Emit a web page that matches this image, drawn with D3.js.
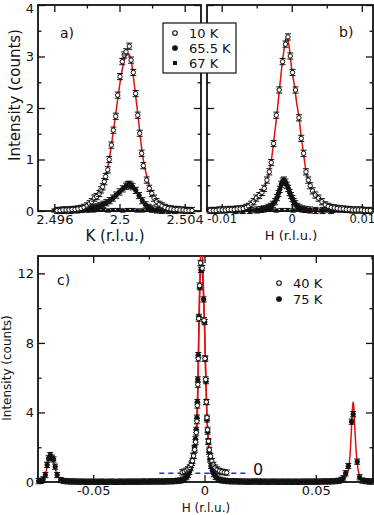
<!DOCTYPE html>
<html>
<head>
<meta charset="utf-8">
<script src="https://cdn.jsdelivr.net/npm/d3@7"></script>
<style>
body { margin: 0; background: #fff; }
svg { display: block; }
</style>
</head>
<body>
<div id="chart"></div>
<script>
// ---- data ----
// panel a: K scans (K in r.l.u., intensity in counts)
var scanA10K = [[2.49617,0.01],[2.49635,0.01],[2.49653,0.02],[2.49672,0.02],[2.49690,0.02],[2.49709,0.03],
    [2.49727,0.03],[2.49745,0.04],[2.49764,0.05],[2.49782,0.07],[2.49801,0.10],[2.49816,0.14],[2.49829,0.18],
    [2.49845,0.25],[2.49860,0.28],[2.49876,0.34],[2.49887,0.41],[2.49897,0.47],[2.49907,0.57],[2.49915,0.67],
    [2.49928,0.80],[2.49937,1.00],[2.49950,1.28],[2.49962,1.57],[2.49977,1.84],[2.49989,2.25],[2.50003,2.61],
    [2.50017,2.90],[2.50029,3.03],[2.50040,3.09],[2.50060,3.20],[2.50071,2.93],[2.50085,2.69],[2.50099,2.28],
    [2.50112,1.86],[2.50124,1.51],[2.50136,1.12],[2.50146,0.88],[2.50167,0.60],[2.50183,0.44],[2.50198,0.34],
    [2.50212,0.25],[2.50228,0.18],[2.50245,0.13],[2.50261,0.10],[2.50279,0.07],[2.50298,0.05],[2.50316,0.04],
    [2.50334,0.03],[2.50353,0.03],[2.50371,0.02],[2.50390,0.02],[2.50408,0.01],[2.50426,0.01],[2.50445,0.01]];
var scanA655K = [[2.4966,0.01],[2.4970,0.01],[2.4974,0.02],[2.4977,0.03],[2.4980,0.04],[2.4982,0.05],[2.4984,0.06],
    [2.4986,0.08],[2.4988,0.10],[2.4990,0.13],[2.4992,0.16],[2.4994,0.20],[2.4996,0.25],[2.4998,0.31],[2.5000,0.37],
    [2.5002,0.43],[2.5004,0.48],[2.5005,0.51],[2.5006,0.52],[2.5007,0.50],[2.5008,0.47],[2.5010,0.40],[2.5012,0.30],
    [2.5014,0.20],[2.5016,0.12],[2.5018,0.07],[2.5020,0.04],[2.5023,0.02],[2.5026,0.01],[2.5030,0.01],[2.5034,0.01]];
var scanA67K = [[2.4960,0.01],[2.4963,0.00],[2.4966,0.01],[2.4969,0.01],[2.4972,0.00],[2.4975,0.01],[2.4978,0.02],
    [2.4981,0.01],[2.4984,0.01],[2.4987,0.02],[2.4990,0.02],[2.4993,0.01],[2.4996,0.02],[2.4999,0.02],[2.5002,0.01],
    [2.5005,0.02],[2.5008,0.02],[2.5011,0.01],[2.5014,0.01],[2.5017,0.02],[2.5020,0.01],[2.5023,0.01],[2.5026,0.00],
    [2.5029,0.01],[2.5032,0.01],[2.5035,0.00],[2.5038,0.01],[2.5041,0.01],[2.5044,0.00]];
var fitA10K = [[2.4962,0.01],[2.4975,0.05],[2.4980,0.12],[2.4983,0.19],[2.4986,0.28],[2.4988,0.37],[2.4990,0.49],
    [2.4992,0.72],[2.4994,1.06],[2.4996,1.50],[2.4998,1.96],[2.5000,2.42],[2.5002,2.80],[2.5004,3.02],[2.5005,3.06],
    [2.5006,3.04],[2.5007,2.94],[2.5009,2.48],[2.5011,1.95],[2.5012,1.66],[2.5013,1.38],[2.5014,1.12],[2.5015,0.93],
    [2.5017,0.64],[2.5019,0.43],[2.5021,0.30],[2.5024,0.17],[2.5028,0.08],[2.5034,0.03],[2.5044,0.01]];
var fitA655K = [[2.4966,0.01],[2.4975,0.02],[2.4982,0.05],[2.4988,0.10],[2.4992,0.16],[2.4996,0.25],[2.5000,0.37],
    [2.5003,0.46],[2.5005,0.50],[2.5006,0.51],[2.5007,0.50],[2.5009,0.44],[2.5012,0.30],[2.5015,0.16],[2.5018,0.08],
    [2.5022,0.03],[2.5028,0.01],[2.5034,0.01]];

// panel b: H scans
var scanB10K = [[-0.01164,0.01],[-0.01121,0.01],[-0.01079,0.01],[-0.01036,0.02],[-0.00993,0.02],[-0.00950,0.02],
    [-0.00907,0.03],[-0.00864,0.03],[-0.00821,0.03],[-0.00779,0.04],[-0.00736,0.04],[-0.00693,0.05],[-0.00650,0.07],
    [-0.00614,0.09],[-0.00579,0.13],[-0.00546,0.18],[-0.00507,0.25],[-0.00464,0.30],[-0.00426,0.36],[-0.00393,0.44],
    [-0.00354,0.60],[-0.00321,0.76],[-0.00293,0.94],[-0.00260,1.31],[-0.00221,1.86],[-0.00179,2.35],[-0.00131,2.90],
    [-0.00089,3.24],[-0.00054,3.38],[-0.00021,3.01],[0.00011,2.69],[0.00054,2.35],[0.00103,1.81],[0.00136,1.41],
    [0.00169,1.12],[0.00203,0.76],[0.00236,0.60],[0.00264,0.49],[0.00297,0.39],[0.00336,0.31],[0.00383,0.25],
    [0.00431,0.18],[0.00479,0.12],[0.00521,0.09],[0.00564,0.07],[0.00607,0.06],[0.00650,0.05],[0.00693,0.04],
    [0.00736,0.04],[0.00779,0.03],[0.00821,0.03],[0.00864,0.02],[0.00907,0.02],[0.00950,0.02],[0.00993,0.02],
    [0.01036,0.01],[0.01079,0.01],[0.01121,0.01]];
var scanB655K = [[-0.0080,0.01],[-0.0070,0.01],[-0.0060,0.01],[-0.0050,0.02],[-0.0044,0.03],[-0.0040,0.04],[-0.0036,0.05],
    [-0.0033,0.07],[-0.0030,0.09],[-0.0027,0.13],[-0.0024,0.18],[-0.0021,0.26],[-0.0019,0.34],[-0.0017,0.42],
    [-0.0015,0.52],[-0.0013,0.58],[-0.0011,0.60],[-0.0009,0.56],[-0.0007,0.50],[-0.0005,0.44],[-0.0003,0.36],
    [-0.0001,0.30],[0.0001,0.24],[0.0003,0.18],[0.0005,0.14],[0.0008,0.09],[0.0011,0.06],[0.0015,0.04],
    [0.0020,0.03],[0.0026,0.02],[0.0034,0.01],[0.0044,0.01],[0.0056,0.01]];
var scanB67K = [[-0.0118,0.01],[-0.0110,0.00],[-0.0102,0.01],[-0.0094,0.01],[-0.0086,0.00],[-0.0078,0.01],[-0.0070,0.01],
    [-0.0062,0.02],[-0.0054,0.01],[-0.0046,0.01],[-0.0038,0.02],[-0.0030,0.02],[-0.0022,0.01],[-0.0014,0.02],
    [-0.0006,0.02],[0.0002,0.01],[0.0010,0.02],[0.0018,0.01],[0.0026,0.01],[0.0034,0.02],[0.0042,0.01],[0.0050,0.01],
    [0.0058,0.00],[0.0066,0.01],[0.0074,0.01],[0.0082,0.00],[0.0090,0.01],[0.0098,0.01],[0.0106,0.00],[0.0114,0.01]];
var fitB10K = [[-0.0118,0.01],[-0.0080,0.04],[-0.0070,0.07],[-0.0062,0.11],[-0.0056,0.17],[-0.0050,0.25],[-0.0045,0.33],
    [-0.0040,0.44],[-0.0036,0.58],[-0.0032,0.78],[-0.0029,1.00],[-0.0026,1.32],[-0.0022,1.78],[-0.0018,2.30],
    [-0.0014,2.82],[-0.0010,3.22],[-0.0007,3.40],[-0.0004,3.22],[0.0000,2.75],[0.0004,2.42],[0.0007,2.10],
    [0.0010,1.85],[0.0013,1.50],[0.0017,1.10],[0.0020,0.80],[0.0024,0.58],[0.0028,0.44],[0.0033,0.32],[0.0038,0.25],
    [0.0043,0.18],[0.0048,0.12],[0.0055,0.08],[0.0065,0.05],[0.0080,0.03],[0.0114,0.01]];
var fitB655K = [[-0.0080,0.01],[-0.0050,0.02],[-0.0040,0.04],[-0.0033,0.07],[-0.0028,0.12],[-0.0024,0.19],[-0.0021,0.27],
    [-0.0018,0.38],[-0.0015,0.50],[-0.0013,0.57],[-0.0011,0.59],[-0.0009,0.57],[-0.0006,0.48],[-0.0003,0.37],
    [0.0000,0.27],[0.0003,0.18],[0.0006,0.12],[0.0010,0.07],[0.0015,0.04],[0.0025,0.02],[0.0050,0.01]];

// panel c: H scans, 40K is offset by 0.5 (its zero is the dashed line)
var offset40K = 0.5;
var zeroLine40K = [-0.0203, 0.0194];
var scanC40K = [[-0.0100,0.05],[-0.0091,0.09],[-0.0082,0.15],[-0.0074,0.23],[-0.0067,0.34],[-0.0060,0.50],
    [-0.0054,0.72],[-0.0049,1.00],[-0.0044,1.36],[-0.0040,1.80],[-0.0037,2.35],[-0.0034,3.00],[-0.0032,3.90],
    [-0.0030,5.10],[-0.0028,6.60],[-0.0026,8.90],[-0.0022,10.8],[-0.0018,12.1],[-0.0010,11.8],[-0.0002,8.80],
    [0.0002,6.60],[0.0005,5.40],[0.0008,4.10],[0.0011,3.20],[0.0014,2.50],[0.0018,1.85],[0.0022,1.35],[0.0027,0.98],
    [0.0033,0.70],[0.0040,0.48],[0.0048,0.33],[0.0057,0.22],[0.0067,0.14],[0.0078,0.09],[0.0089,0.06],[0.0100,0.04]];
var scanC75K = [[-0.0745,0.05],[-0.0735,0.07],[-0.0725,0.15],[-0.0715,0.40],[-0.0707,0.98],[-0.0700,1.36],
    [-0.0693,1.55],[-0.0685,1.40],[-0.0678,1.30],[-0.0671,0.88],[-0.0662,0.40],[-0.0646,0.11],[-0.0632,0.06],
    [-0.0615,0.04],[-0.0600,0.03],[-0.0585,0.03],[-0.0570,0.02],[-0.0555,0.02],[-0.0540,0.02],[-0.0525,0.01],
    [-0.0510,0.02],[-0.0495,0.01],[-0.0480,0.01],[-0.0465,0.02],[-0.0450,0.01],[-0.0435,0.01],[-0.0420,0.02],
    [-0.0405,0.01],[-0.0390,0.01],[-0.0375,0.02],[-0.0360,0.01],[-0.0345,0.02],[-0.0330,0.02],[-0.0315,0.02],
    [-0.0300,0.02],[-0.0285,0.02],[-0.0270,0.03],[-0.0255,0.02],[-0.0240,0.03],[-0.0225,0.03],[-0.0210,0.03],
    [-0.0195,0.03],[-0.0180,0.03],[-0.0165,0.04],[-0.0150,0.04],[-0.0135,0.05],[-0.0120,0.07],[-0.0108,0.09],
    [-0.0098,0.13],[-0.0089,0.19],[-0.0081,0.28],[-0.0074,0.40],[-0.0068,0.58],[-0.0062,0.80],[-0.0056,1.10],
    [-0.0050,1.50],[-0.0045,1.95],[-0.0041,2.45],[-0.0037,3.00],[-0.0034,3.70],[-0.0032,4.60],[-0.0030,5.90],
    [-0.0028,7.30],[-0.0025,9.50],[-0.0021,11.2],[-0.0016,12.2],[-0.0004,10.5],[0.0001,9.20],[0.0004,7.10],
    [0.0007,5.80],[0.0009,4.60],[0.0011,3.60],[0.0014,2.90],[0.0017,2.30],[0.0020,1.75],[0.0024,1.30],[0.0029,0.92],
    [0.0035,0.65],[0.0042,0.45],[0.0050,0.30],[0.0059,0.20],[0.0069,0.13],[0.0080,0.09],[0.0093,0.07],[0.0108,0.05],
    [0.0123,0.04],[0.0138,0.04],[0.0153,0.03],[0.0168,0.03],[0.0183,0.02],[0.0198,0.02],[0.0213,0.02],[0.0228,0.03],
    [0.0243,0.02],[0.0258,0.02],[0.0273,0.02],[0.0288,0.01],[0.0303,0.02],[0.0318,0.02],[0.0333,0.01],[0.0348,0.02],
    [0.0363,0.01],[0.0378,0.02],[0.0393,0.01],[0.0408,0.02],[0.0423,0.01],[0.0438,0.02],[0.0453,0.02],[0.0468,0.02],
    [0.0483,0.02],[0.0498,0.02],[0.0513,0.02],[0.0528,0.03],[0.0543,0.03],[0.0558,0.03],[0.0573,0.04],[0.0588,0.05],
    [0.0603,0.07],[0.0615,0.12],[0.0623,0.21],[0.0634,0.50],[0.0646,0.92],[0.0661,3.47],[0.0668,3.90],[0.0686,1.17],
    [0.0697,0.27],[0.0710,0.08],[0.0725,0.05],[0.0740,0.03],[0.0752,0.02]];
var fitC40K = [[-0.0100,0.03],[-0.0085,0.09],[-0.0072,0.22],[-0.0062,0.42],[-0.0054,0.68],[-0.0047,1.00],
    [-0.0041,1.45],[-0.0037,1.95],[-0.0034,2.60],[-0.0032,3.30],[-0.0030,4.50],[-0.0028,5.90],[-0.0026,7.80],
    [-0.0023,10.0],[-0.0019,12.0],[-0.0014,13.2],[-0.0010,12.8],[-0.0006,11.4],[-0.0003,10.0],[0.0000,8.60],
    [0.0003,6.80],[0.0006,5.40],[0.0009,4.00],[0.0012,2.90],[0.0016,2.00],[0.0020,1.35],[0.0026,0.85],[0.0034,0.52],
    [0.0045,0.30],[0.0060,0.15],[0.0080,0.06],[0.0100,0.03]];
var fitC75K = [[-0.0748,0.03],[-0.0730,0.10],[-0.0718,0.30],[-0.0710,0.70],[-0.0703,1.15],[-0.0697,1.50],
    [-0.0693,1.62],[-0.0688,1.52],[-0.0680,1.22],[-0.0672,0.85],[-0.0663,0.45],[-0.0652,0.18],[-0.0635,0.06],
    [-0.0600,0.03],[-0.0300,0.02],[-0.0150,0.04],[-0.0100,0.10],[-0.0080,0.27],[-0.0066,0.62],[-0.0056,1.10],
    [-0.0047,1.80],[-0.0040,2.60],[-0.0035,3.50],[-0.0032,4.60],[-0.0029,6.20],[-0.0026,8.20],[-0.0022,10.6],
    [-0.0017,12.2],[-0.0012,12.4],[-0.0007,11.5],[-0.0003,10.0],[0.0001,8.60],[0.0004,7.00],[0.0008,5.20],
    [0.0011,3.90],[0.0015,2.80],[0.0020,1.80],[0.0027,1.10],[0.0036,0.62],[0.0050,0.30],[0.0070,0.12],[0.0100,0.06],
    [0.0200,0.03],[0.0550,0.03],[0.0600,0.05],[0.0625,0.15],[0.0640,0.42],[0.0650,1.00],[0.0656,2.00],[0.0661,3.30],
    [0.0665,4.30],[0.0668,4.60],[0.0671,4.30],[0.0675,3.20],[0.0680,2.00],[0.0686,1.10],[0.0693,0.50],[0.0702,0.20],
    [0.0720,0.06],[0.0757,0.02]];

// error bar half-lengths (counts) and labels
var errAB = 0.06;
var errC = 0.15;
var legendAB = ["10 K", "65.5 K", "67 K"];
var legendC = ["40 K", "75 K"];
var ticksAX = [2.496, 2.5, 2.504], minorAX = [2.498, 2.502];
var ticksABY = [0, 1, 2, 3, 4], minorABY = [0.5, 1.5, 2.5, 3.5];
var ticksBX = [-0.01, 0, 0.01], minorBX = [-0.005, 0.005];
var ticksCX = [-0.05, 0, 0.05], minorCX = [-0.075, -0.025, 0.025, 0.075];
var ticksCY = [0, 4, 8, 12], minorCY = [2, 6, 10];

var font = "DejaVu Sans, sans-serif";
var red = "#e01010";

var svg = d3.select("#chart").append("svg")
    .attr("width", 374)
    .attr("height", 515)
    .style("font-family", font);

// Scales
var xA = d3.scaleLinear().domain([2.495, 2.505]).range([38, 201]);
var yAB = d3.scaleLinear().domain([0, 4]).range([211, 5]);
var xB = d3.scaleLinear().domain([-0.0121, 0.0116]).range([207, 373]);
var xC = d3.scaleLinear().domain([-0.0748, 0.0757]).range([38, 373]);
var yC = d3.scaleLinear().domain([0, 13]).range([482, 256]);

/* 'drawAxes' puts inward ticks on all four sides of a panel and the frame around it */
function drawAxes(id, x, y, xMajor, xMinor, yMajor, yMinor, xLabels, yLabels, xFont) {
    var g = svg.append("g").attr("class", "axes " + id);
    var x0 = x.range()[0], x1 = x.range()[1], y0 = y.range()[0], y1 = y.range()[1];
    var fmt = function(d) { return String(d); };

    function axis(gen, tr, vals, size, labels, pad, fsize) {
        var a = g.append("g")
            .attr("transform", tr)
            .call(gen.tickValues(vals).tickSize(size).tickPadding(pad || 3)
                .tickFormat(labels ? fmt : ""));
        a.select(".domain").remove();
        a.selectAll("line").attr("stroke", "#111").attr("stroke-width", 1.3);
        a.selectAll("text").attr("font-family", font).attr("font-size", fsize || 13).attr("fill", "#111");
        return a;
    }
    axis(d3.axisBottom(x), "translate(0," + y0 + ")", xMajor, -7, xLabels, 4, xFont);
    axis(d3.axisBottom(x), "translate(0," + y0 + ")", xMinor, -3.5, false);
    axis(d3.axisTop(x), "translate(0," + y1 + ")", xMajor, -7, false);
    axis(d3.axisTop(x), "translate(0," + y1 + ")", xMinor, -3.5, false);
    var left = axis(d3.axisLeft(y), "translate(" + x0 + ",0)", yMajor, -7, yLabels, 4);
    axis(d3.axisLeft(y), "translate(" + x0 + ",0)", yMinor, -3.5, false);
    axis(d3.axisRight(y), "translate(" + x1 + ",0)", yMajor, -7, false);
    axis(d3.axisRight(y), "translate(" + x1 + ",0)", yMinor, -3.5, false);

    // keep the top label inside the picture
    left.selectAll("text").attr("dy", function(d) {
        return y(d) < 8 ? "0.6em" : "0.32em";
    });

    g.append("rect")
        .attr("x", x0).attr("y", y1)
        .attr("width", x1 - x0).attr("height", y0 - y1)
        .attr("fill", "none").attr("stroke", "#111").attr("stroke-width", 1.8);

    svg.append("clipPath").attr("id", "clip-" + id)
        .append("rect")
        .attr("x", x0).attr("y", y1)
        .attr("width", x1 - x0).attr("height", y0 - y1);
}

/* 'drawFit' draws a red fit curve clipped to its panel */
function drawFit(id, data, x, y, offset) {
    var off = offset || 0;
    svg.append("path")
        .datum(data)
        .attr("clip-path", "url(#clip-" + id + ")")
        .attr("fill", "none")
        .attr("stroke", red)
        .attr("stroke-width", 1.5)
        .attr("d", d3.line()
            .curve(d3.curveMonotoneX)
            .x(function(d) { return x(d[0]); })
            .y(function(d) { return y(d[1] + off); }));
}

/* 'drawScan' draws the points with error bars; marker is "open", "filled" or "square" */
function drawScan(data, x, y, marker, err, offset) {
    var off = offset || 0;
    var g = svg.append("g").attr("class", "scan " + marker);
    var pts = g.selectAll("g").data(data).enter().append("g")
        .attr("transform", function(d) { return "translate(" + x(d[0]) + "," + y(d[1] + off) + ")"; });

    pts.each(function(d) {
        var p = d3.select(this);
        var up = y(d[1] + off + err) - y(d[1] + off);
        var dn = y(d[1] + off - err) - y(d[1] + off);
        p.append("path")
            .attr("d", "M0," + up + "V" + dn + "M-3," + up + "H3M-3," + dn + "H3")
            .attr("stroke", "#111").attr("stroke-width", 1).attr("fill", "none");
        if (marker === "square") {
            p.append("rect").attr("x", -1.8).attr("y", -1.8).attr("width", 3.6).attr("height", 3.6)
                .attr("fill", "#111");
        } else {
            p.append("circle").attr("r", 2.2)
                .attr("fill", marker === "open" ? "#fff" : "#111")
                .attr("stroke", "#111").attr("stroke-width", 1);
        }
    });
}

function legendMarker(x, y, marker) {
    if (marker === "square") {
        svg.append("rect").attr("x", x - 2).attr("y", y - 2).attr("width", 4).attr("height", 4).attr("fill", "#111");
    } else {
        svg.append("circle").attr("cx", x).attr("cy", y).attr("r", 2.3)
            .attr("fill", marker === "open" ? "#fff" : "#111")
            .attr("stroke", "#111").attr("stroke-width", 1.1);
    }
}

function addText(x, y, str, size, anchor, rotate) {
    var t = svg.append("text")
        .attr("font-family", font)
        .attr("font-size", size)
        .attr("fill", "#111")
        .attr("text-anchor", anchor || "start")
        .text(str);
    if (rotate) {
        t.attr("transform", "translate(" + x + "," + y + ")rotate(-90)");
    } else {
        t.attr("x", x).attr("y", y);
    }
    return t;
}

// ---- panel a ----
drawAxes("a", xA, yAB, ticksAX, minorAX, ticksABY, minorABY, true, true, 13);
drawFit("a", fitA655K, xA, yAB);
drawFit("a", fitA10K, xA, yAB);
drawScan(scanA67K, xA, yAB, "square", errAB * 0.5);
drawScan(scanA655K, xA, yAB, "filled", errAB);
drawScan(scanA10K, xA, yAB, "open", errAB);
addText(60, 38, "a)", 14);
addText(115, 241, "K (r.l.u.)", 15, "middle");
addText(20, 95, "Intensity (counts)", 15, "middle", true);

// ---- panel b ----
drawAxes("b", xB, yAB, ticksBX, minorBX, ticksABY, minorABY, true, false, 11.5);
drawFit("b", fitB655K, xB, yAB);
drawFit("b", fitB10K, xB, yAB);
drawScan(scanB67K, xB, yAB, "square", errAB * 0.5);
drawScan(scanB655K, xB, yAB, "filled", errAB);
drawScan(scanB10K, xB, yAB, "open", errAB);
addText(339, 37, "b)", 14);
addText(291, 240, "H (r.l.u.)", 13, "middle");

// legend box shared by a and b
svg.append("rect")
    .attr("x", 163).attr("y", 23).attr("width", 73).attr("height", 50)
    .attr("fill", "#fff").attr("stroke", "#111").attr("stroke-width", 1.2);
["open", "filled", "square"].forEach(function(m, i) {
    legendMarker(175, 33 + i * 15, m);
    addText(189, 37.5 + i * 15, legendAB[i], 13);
});

// ---- panel c ----
drawAxes("c", xC, yC, ticksCX, minorCX, ticksCY, minorCY, true, true, 13);
svg.append("line")
    .attr("x1", xC(zeroLine40K[0])).attr("x2", xC(zeroLine40K[1]))
    .attr("y1", yC(offset40K)).attr("y2", yC(offset40K))
    .attr("stroke", "#1f2fd0").attr("stroke-width", 1.5)
    .attr("stroke-dasharray", "5,4");
addText(253, 475, "0", 16);
drawFit("c", fitC75K, xC, yC);
drawFit("c", fitC40K, xC, yC, offset40K);
drawScan(scanC75K, xC, yC, "filled", errC);
drawScan(scanC40K, xC, yC, "open", errC, offset40K);
addText(57, 285, "c)", 14);
addText(206, 512, "H (r.l.u.)", 12, "middle");
addText(11, 368, "Intensity (counts)", 12, "middle", true);

legendMarker(279, 283, "open");
legendMarker(279, 299, "filled");
addText(293, 288, legendC[0], 13);
addText(293, 304, legendC[1], 13);
</script>
</body>
</html>
